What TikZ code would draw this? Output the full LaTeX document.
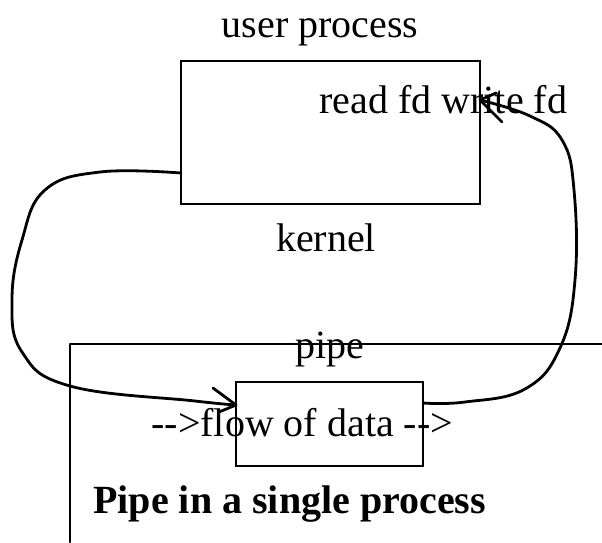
\documentclass[tikz,border=0pt]{standalone}
\usepackage{fontspec}
\setmainfont{Liberation Serif}
\begin{document}
\begin{tikzpicture}[x=1pt,y=-1pt,
  line width=2.8pt, line cap=round, line join=round,
  lbl/.style={font=\fontsize{40}{48}\selectfont, inner sep=0pt, anchor=base},
  boxst/.style={draw, inner sep=0pt, outer sep=0pt, line join=miter},
  conn/.style={draw}]
\useasboundingbox (0,0) rectangle (602,542);
% boxes
\node[boxst, minimum width=299pt, minimum height=143pt] (ub) at (330.5,132.5) {};
\node[boxst, minimum width=187pt, minimum height=84pt] (sb) at (329.5,424) {};
% texts
\node[lbl] (tup) at (320,37) {user process};
\node[lbl, anchor=base west] (trw) at (318,113) {read fd write fd};
\node[lbl] (tk) at (326,251) {kernel};
\node[lbl] (tp) at (330,358) {pipe};
\node[lbl, anchor=base west] (tf) at (150,436) {-\kern0pt->flow of data -\kern0pt->};
\node[lbl, anchor=base west, font=\fontsize{40}{48}\selectfont\bfseries] (tt) at (92,513) {Pipe in a single process};
% pipe frame
\coordinate (fa) at (70,344);
\coordinate (fb) at (602,344);
\coordinate (fc) at (70,542);
\draw (fb) -- (fa) -- (fc);
% left connector
\coordinate (l0) at (ub.west |- 0,173);
\coordinate (l9) at (sb.west |- 0,405);
\draw[conn] plot[smooth, tension=0.7] coordinates {(l0) (100,172) (45,190) (22,240) (12,300) (22,352) (70,386) (195,401) (l9)};
\draw (l9) -- ++(-23,-17);
\draw (l9) -- ++(-17,7);
% right connector
\coordinate (r0) at (sb.east |- 0,403);
\coordinate (r9) at (ub.east |- 0,100);
\draw[conn] plot[smooth, tension=0.7] coordinates {(r0) (465,402) (525,389) (560,348) (575,280) (574,190) (562,140) (530,116) (r9)};
\draw (r9) -- ++(22,22);
\draw (r9) -- ++(16,-7);
\end{tikzpicture}
\end{document}
